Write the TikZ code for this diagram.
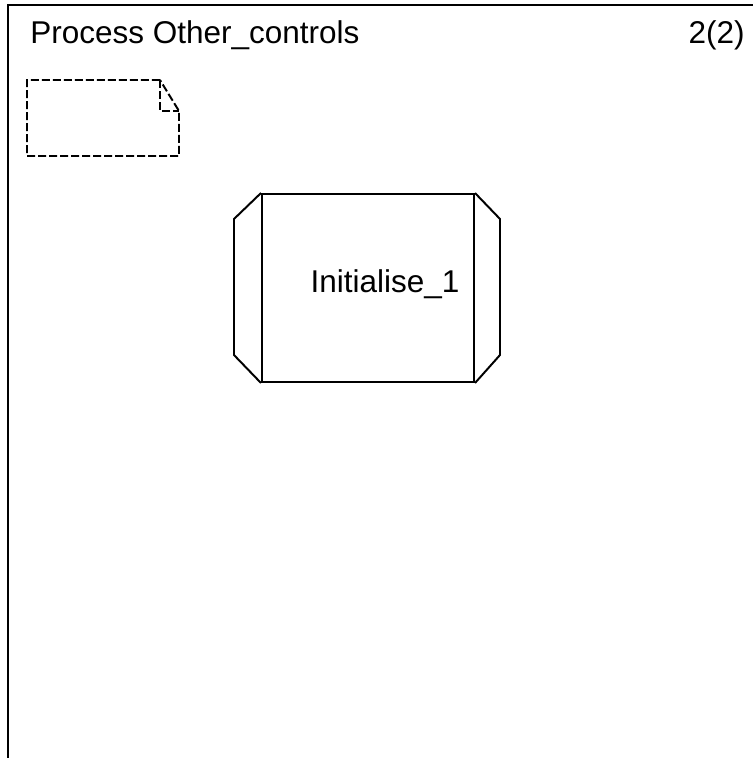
\documentclass[tikz,border=0pt]{standalone}
\usepackage{fontspec}
\setmainfont{Liberation Sans}
\usetikzlibrary{positioning}

\tikzset{
  framestyle/.style={line width=1.8pt,line cap=rect},
  symbolstyle/.style={line width=1.4pt,line join=miter},
  textsymbol/.style={symbolstyle,dash pattern=on 0.2cm off 0.075cm},
  procbox/.style={draw,symbolstyle,minimum width=5.3cm,minimum height=4.7cm,inner sep=0pt},
  labeltext/.style={font=\fontsize{22.4}{26}\selectfont,inner sep=0pt}
}

\begin{document}
\begin{tikzpicture}[x=0.025cm,y=-0.025cm]
\useasboundingbox (0,0) rectangle (752,758);
\draw[framestyle] (752,5) -- (8,5) -- (8,758);
\node[labeltext,anchor=base west] (title) at (30,43) {Process Other\_controls};
\node[labeltext,anchor=base east] (page) at (745,43) {2(2)};

\draw[textsymbol] (160,80) -- (27,80) -- (27,156) -- (179,156) -- (179,111) -- cycle;
\draw[textsymbol] (160,80) -- (160,111) -- (179,111);

\node[procbox] (init) at (368,288) {};
\draw[symbolstyle] (init.north west) -- ++(-27,26) -- ++(0,136) -- (init.south west);
\draw[symbolstyle] (init.north east) -- ++(25,26) -- ++(0,136) -- (init.south east);
\node[labeltext,anchor=base] (initlabel) at (385,292) {Initialise\_1};

\end{tikzpicture}
\end{document}
